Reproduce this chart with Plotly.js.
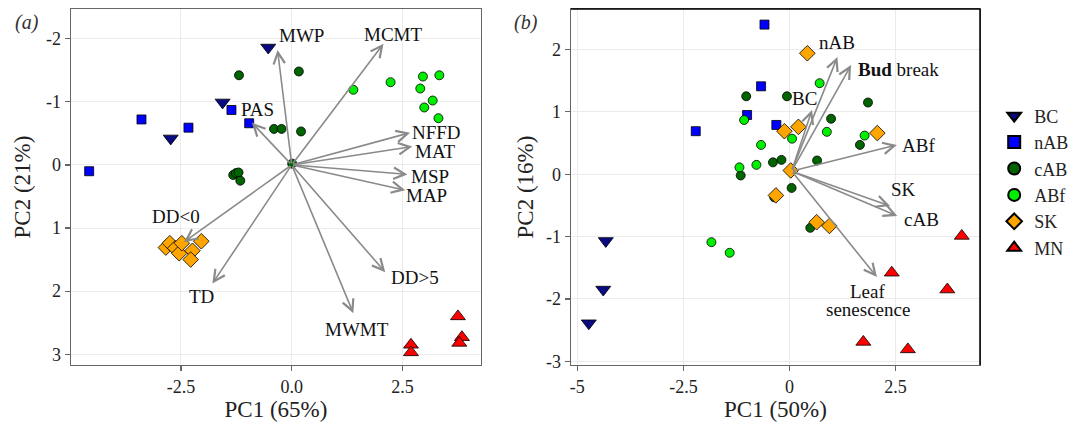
<!DOCTYPE html>
<html>
<head>
<meta charset="utf-8">
<script src="https://cdn.plot.ly/plotly-3.0.1.min.js"></script>
<style>html,body{margin:0;padding:0;background:#fff;}#chart{width:1083px;height:422px;}</style>
</head>
<body>
<div id="chart"></div>
<script>
// ---------- Data: panel (a) climate PCA ----------
const groups = ["BC", "nAB", "cAB", "ABf", "SK", "MN"];
const aBC_x  = [-0.53, -1.56, -2.73];
const aBC_y  = [-1.86, -0.99, -0.42];
const aNAB_x = [-4.57, -3.39, -2.33, -1.36, -0.96];
const aNAB_y = [0.10, -0.72, -0.59, -0.87, -0.66];
const aCAB_x = [-1.19, 0.16, -0.40, -0.23, 0.21, 0.01, -1.32, -1.26, -1.20, -1.16];
const aCAB_y = [-1.42, -1.48, -0.57, -0.57, -0.53, -0.02, 0.16, 0.13, 0.12, 0.25];
const aABF_x = [1.39, 2.23, 2.96, 3.33, 2.90, 3.18, 2.99, 3.31];
const aABF_y = [-1.19, -1.31, -1.40, -1.42, -1.21, -1.02, -0.91, -0.74];
const aSK_x  = [-2.84, -2.75, -2.63, -2.54, -2.48, -2.24, -2.28, -2.04];
const aSK_y  = [1.31, 1.24, 1.32, 1.40, 1.24, 1.36, 1.50, 1.21];
const aMN_x  = [3.75, 3.84, 3.78, 2.69, 2.69];
const aMN_y  = [2.40, 2.73, 2.82, 2.85, 2.97];

const aVarNames = ["MWP", "MCMT", "NFFD", "MAT", "MSP", "MAP", "PAS", "DD<0", "TD", "MWMT", "DD>5"];
const aVarX     = [-0.32, 2.07, 2.67, 2.72, 2.61, 2.56, -0.90, -2.43, -1.79, 1.39, 2.11];
const aVarY     = [-1.82, -1.92, -0.51, -0.29, 0.15, 0.40, -0.67, 1.22, 1.88, 2.35, 1.70];
const aLabX     = [0.21, 2.29, 3.27, 3.25, 3.12, 3.05, -0.78, -2.60, -2.03, 1.48, 2.78];
const aLabY     = [-2.05, -2.06, -0.51, -0.21, 0.18, 0.49, -0.88, 0.81, 2.08, 2.61, 1.78];

// ---------- Data: panel (b) trait PCA ----------
const bBC_x  = [-4.33, -4.39, -4.73];
const bBC_y  = [-1.07, -1.85, -2.39];
const bNAB_x = [-0.59, -0.67, -1.00, -2.21, -0.31];
const bNAB_y = [2.40, 1.41, 0.95, 0.69, 0.79];
const bCAB_x = [-1.02, -0.06, 1.85, 0.98, 1.66, -0.39, -0.19, 0.65, -1.15, 0.05, -0.36, 0.49];
const bCAB_y = [1.25, 1.25, 1.15, 0.89, 0.47, 0.19, 0.23, 0.22, -0.02, -0.22, -0.37, -0.86];
const bABF_x = [0.71, -1.07, 0.88, 1.77, 0.06, -0.67, -0.78, -1.18, -1.84, -1.41];
const bABF_y = [1.46, 0.87, 0.68, 0.62, 0.57, 0.47, 0.15, 0.11, -1.09, -1.26];
const bSK_x  = [0.42, -0.12, 0.21, 2.07, 0.03, -0.32, 0.64, 0.94];
const bSK_y  = [1.94, 0.69, 0.76, 0.66, 0.06, -0.34, -0.77, -0.83];
const bMN_x  = [4.06, 2.41, 3.72, 1.74, 2.79];
const bMN_y  = [-0.99, -1.58, -1.85, -2.69, -2.81];

const bVarNames = ["nAB", "<b>Bud</b> break", "BC", "ABf", "SK", "cAB", "Leaf<br>senescence"];
const bVarX     = [1.13, 1.45, 0.53, 2.53, 2.37, 2.54, 2.06];
const bVarY     = [1.88, 1.75, 1.03, 0.47, -0.51, -0.67, -1.65];
const bLabX     = [1.13, 2.57, 0.35, 3.04, 2.69, 3.12, 1.85];
const bLabY     = [2.12, 1.68, 1.21, 0.46, -0.24, -0.73, -2.03];
const bOrigin   = [0.05, 0.05];

// ---------- Styles ----------
const symbols = ["triangle-down", "square", "circle", "circle", "diamond", "triangle-up"];
const colors  = ["#0a0a80", "#0000ff", "#006400", "#00ee00", "#ffa500", "#ff0000"];
const sizes   = [13, 9, 9, 9, 12, 13];
const FONT = "'Liberation Serif', 'Times New Roman', serif";

const aX = [aBC_x, aNAB_x, aCAB_x, aABF_x, aSK_x, aMN_x];
const aY = [aBC_y, aNAB_y, aCAB_y, aABF_y, aSK_y, aMN_y];
const bX = [bBC_x, bNAB_x, bCAB_x, bABF_x, bSK_x, bMN_x];
const bY = [bBC_y, bNAB_y, bCAB_y, bABF_y, bSK_y, bMN_y];

const traces = [];
groups.forEach((g, i) => {
  traces.push({
    x: aX[i], y: aY[i], xaxis: "x", yaxis: "y", type: "scatter", mode: "markers",
    name: g, showlegend: true, legendgroup: g,
    marker: {symbol: symbols[i], color: colors[i], size: sizes[i], line: {color: "#000", width: 0.8}},
    hoverinfo: "skip"
  });
});
groups.forEach((g, i) => {
  traces.push({
    x: bX[i], y: bY[i], xaxis: "x2", yaxis: "y2", type: "scatter", mode: "markers",
    name: g, showlegend: false, legendgroup: g,
    marker: {symbol: symbols[i], color: colors[i], size: sizes[i], line: {color: "#000", width: 0.8}},
    hoverinfo: "skip"
  });
});

const LABEL_SIZE = 19;
const annotations = [];
const arrowStyle = {showarrow: true, arrowhead: 5, arrowsize: 1.4, arrowwidth: 1.6, arrowcolor: "#8a8a8a", text: ""};
function addLabel(x, y, xref, yref, text) {
  const lines = text.split("<br>");
  lines.forEach((ln, k) => {
    annotations.push({x: x, y: y, xref: xref, yref: yref, text: ln, showarrow: false,
      yshift: -(k - (lines.length - 1) / 2) * 18,
      font: {family: FONT, size: LABEL_SIZE, color: "#111"}});
  });
}
aVarNames.forEach((n, i) => {
  annotations.push(Object.assign({x: aVarX[i], y: aVarY[i], xref: "x", yref: "y", ax: 0, ay: 0, axref: "x", ayref: "y"}, arrowStyle));
  addLabel(aLabX[i], aLabY[i], "x", "y", n);
});
bVarNames.forEach((n, i) => {
  annotations.push(Object.assign({x: bVarX[i], y: bVarY[i], xref: "x2", yref: "y2", ax: bOrigin[0], ay: bOrigin[1], axref: "x2", ayref: "y2"}, arrowStyle));
  addLabel(bLabX[i], bLabY[i], "x2", "y2", n);
});
annotations.push({x: 27 / 1083, y: 1 - 13 / 356, xref: "paper", yref: "paper", xanchor: "center", yanchor: "middle",
  text: "<i>(a)</i>", showarrow: false, font: {family: FONT, size: 20, color: "#333"}});
annotations.push({x: 526 / 1083, y: 1 - 13 / 356, xref: "paper", yref: "paper", xanchor: "center", yanchor: "middle",
  text: "<i>(b)</i>", showarrow: false, font: {family: FONT, size: 20, color: "#333"}});

const axisCommon = {
  showline: true, linecolor: "#666", linewidth: 1.3, mirror: true,
  ticks: "outside", ticklen: 5, tickcolor: "#666", tickwidth: 1.2,
  showgrid: true, gridcolor: "#ebebeb", gridwidth: 1, zeroline: false,
  tickfont: {family: FONT, size: 18, color: "#222"},
  fixedrange: true
};
const titleFont = {family: FONT, size: 23, color: "#222"};

const layout = {
  width: 1083, height: 422,
  margin: {l: 0, r: 0, t: 9, b: 57},
  paper_bgcolor: "#fff", plot_bgcolor: "#fff",
  showlegend: true,
  legend: {x: 0.918, y: (365 - 182) / 356, xanchor: "left", yanchor: "middle",
    font: {family: FONT, size: 18, color: "#222"}, bgcolor: "rgba(0,0,0,0)", tracegroupgap: 0, itemsizing: "constant"},
  xaxis: Object.assign({}, axisCommon, {
    domain: [71 / 1083, 481 / 1083], range: [-4.98, 4.27], anchor: "y",
    tickvals: [-2.5, 0, 2.5], ticktext: ["-2.5", "0.0", "2.5"],
    title: {text: "PC1 (65%)", font: titleFont, standoff: 4}
  }),
  yaxis: Object.assign({}, axisCommon, {
    domain: [0, 1], range: [3.17, -2.47], anchor: "x",
    tickvals: [-2, -1, 0, 1, 2, 3], ticktext: ["-2", "-1", "0", "1", "2", "3"],
    title: {text: "PC2 (21%)", font: titleFont, standoff: 9}
  }),
  xaxis2: Object.assign({}, axisCommon, {
    domain: [571 / 1083, 980 / 1083], range: [-5.15, 4.49], anchor: "y2",
    tickvals: [-5, -2.5, 0, 2.5], ticktext: ["-5", "-2.5", "0", "2.5"],
    title: {text: "PC1 (50%)", font: titleFont, standoff: 4}
  }),
  yaxis2: Object.assign({}, axisCommon, {
    domain: [0, 1], range: [-3.06, 2.65], anchor: "x2",
    tickvals: [-3, -2, -1, 0, 1, 2], ticktext: ["-3", "-2", "-1", "0", "1", "2"],
    title: {text: "PC2 (16%)", font: titleFont, standoff: 6}
  }),
  shapes: [
    {type: "line", xref: "x2 domain", yref: "y2 domain", x0: 0, x1: 1, y0: 1, y1: 1, line: {color: "#000", width: 1.5}},
    {type: "line", xref: "x2 domain", yref: "y2 domain", x0: 1, x1: 1, y0: 0, y1: 1, line: {color: "#000", width: 1.5}}
  ],
  annotations: annotations
};

Plotly.newPlot("chart", traces, layout, {displayModeBar: false, staticPlot: true});
</script>
</body>
</html>
